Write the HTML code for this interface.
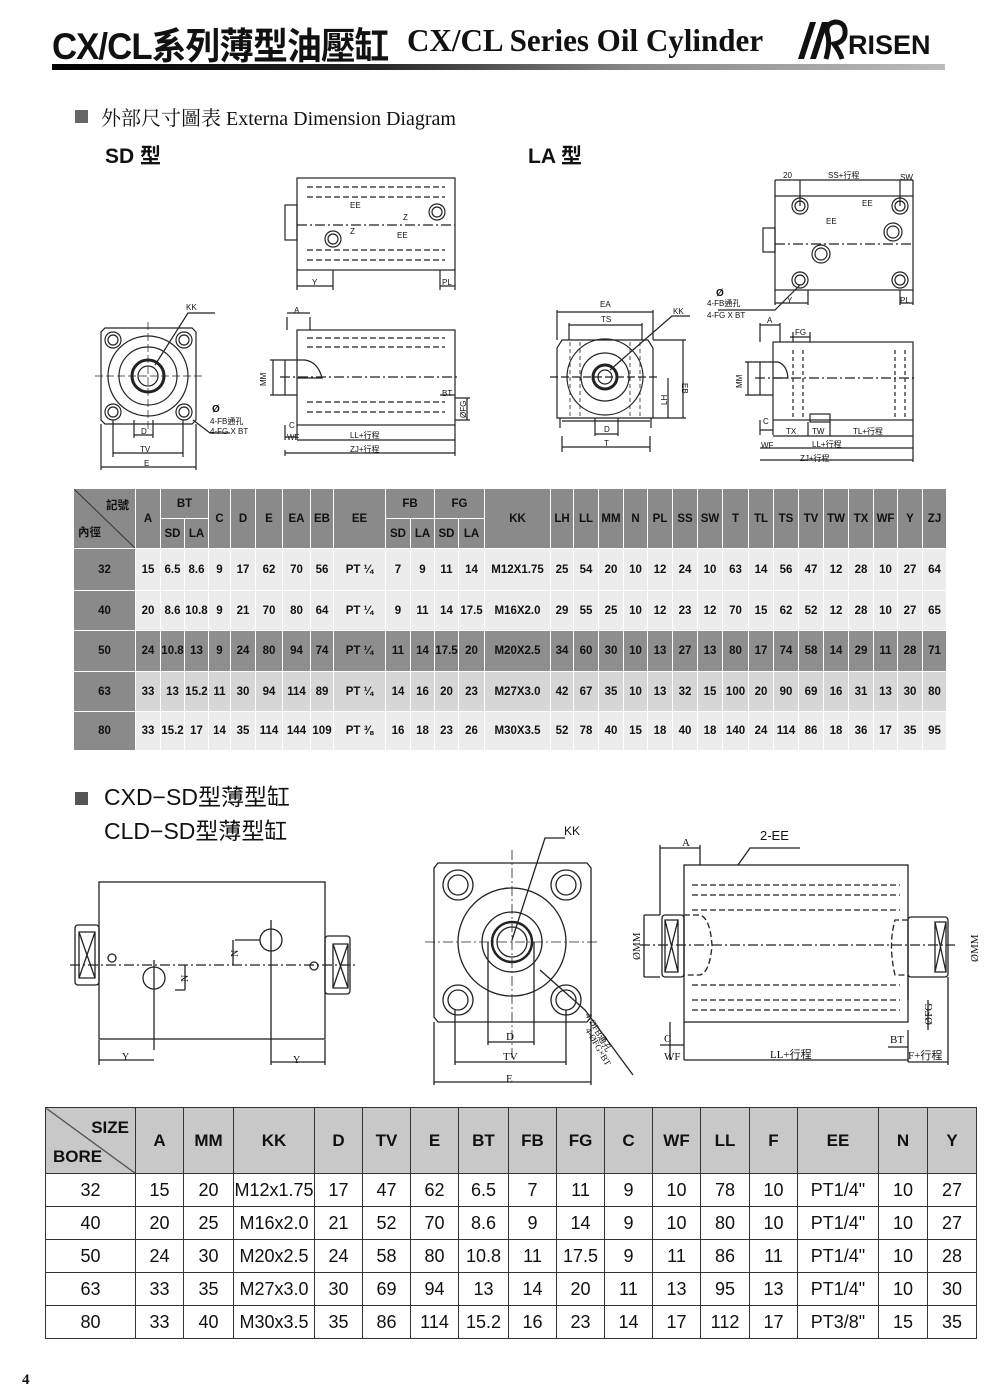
<!DOCTYPE html>
<html><head><meta charset="utf-8">
<style>
*{margin:0;padding:0;box-sizing:border-box}
body{width:1000px;height:1400px;background:#fff;position:relative;overflow:hidden;font-family:"Liberation Sans","Noto Sans CJK TC",sans-serif;color:#111}
.a{position:absolute;white-space:nowrap}
table{border-collapse:collapse;position:absolute;table-layout:fixed}
#t1{left:73px;top:488px;width:873px;font-family:"Liberation Sans Narrow","Liberation Sans","Noto Sans CJK TC",sans-serif;font-weight:bold;font-size:11.5px}
#t1 td{text-align:center;border:1px solid #fff;padding:0;overflow:hidden}
#t1 .h td{background:#8a8a8a;color:#111}
#t1 tr.l td{background:#ececec}
#t1 tr.m td{background:#d6d6d6}
#t1 tr.d td{background:#8e8e8e}
#t1 td.f{background:#8a8a8a!important}
#t2{left:45px;top:1107px;width:930px;font-size:18px}
#t2 td{border:1px solid #333;text-align:center;padding:0}
#t2 tr.hh td{background:#c8c8c8;font-weight:bold;font-size:17px;height:66px}
#t2 tr.r td{height:33px}
</style></head><body>

<div class="a" style="left:52px;top:16px;font-size:37px;font-weight:bold;letter-spacing:-1px;transform:scaleX(0.94);transform-origin:left">CX/CL系列薄型油壓缸</div>
<div class="a" style="left:407px;top:22px;font-family:'Liberation Serif',serif;font-size:32px;font-weight:bold;transform:scaleX(0.97);transform-origin:left">CX/CL Series Oil Cylinder</div>
<svg class="a" style="left:790px;top:14px" width="60" height="50"><path d="M8 45 L20 8 L26 8 L14 45Z M20 45 L32 8 L38 8 L26 45Z" fill="#111"/><path d="M36 45 Q40 30 38 22 Q34 10 45 8 Q56 8 55 20 Q54 28 44 30 Q50 38 52 45" fill="none" stroke="#111" stroke-width="5"/></svg>
<div class="a" style="left:848px;top:30px;font-size:27px;font-weight:bold">RISEN</div>
<div class="a" style="left:52px;top:64px;width:893px;height:6px;background:linear-gradient(90deg,#000 0%,#222 35%,#888 65%,#bbb 100%)"></div>

<div class="a" style="left:75px;top:110px;width:13px;height:13px;background:#666"></div>
<div class="a" style="left:101px;top:102px;font-size:20px;font-family:'Liberation Serif','Noto Serif CJK SC',serif">外部尺寸圖表 Externa Dimension Diagram</div>
<div class="a" style="left:105px;top:140px;font-size:21px;font-weight:bold">SD 型</div>
<div class="a" style="left:528px;top:140px;font-size:21px;font-weight:bold">LA 型</div>

<svg class="a" style="left:0;top:0" width="1000" height="1100" font-family="Liberation Sans, Noto Sans CJK TC, sans-serif" font-size="8" fill="none" stroke="#222" stroke-width="1.2">
<!-- SD top view -->
<rect x="297" y="178" width="158" height="92"/>
<rect x="285" y="205" width="12" height="35"/>
<path d="M307 187H445M307 197H445M307 250H445M307 260H445" stroke-dasharray="6 3"/>
<circle cx="333" cy="239" r="8"/><circle cx="333" cy="239" r="5"/>
<circle cx="437" cy="212" r="8"/><circle cx="437" cy="212" r="5"/>
<path d="M297 225H455" stroke-dasharray="10 3 2 3"/>
<path d="M297 270V290M333 270V290M297 286H333M440 270V290M455 270V290M440 286H455"/>
<g fill="#111" stroke="none"><text x="312" y="285">Y</text><text x="442" y="285">PL</text><text x="350" y="208">EE</text><text x="397" y="238">EE</text><text x="403" y="220">Z</text><text x="350" y="234">Z</text></g>
<!-- SD front -->
<path d="M105 328H192L196 332V420L192 424H105L101 420V332Z"/>
<circle cx="148" cy="376" r="40"/><circle cx="148" cy="376" r="29"/><circle cx="148" cy="376" r="16" stroke-width="3"/><circle cx="148" cy="376" r="10"/>
<circle cx="113" cy="340" r="8"/><circle cx="113" cy="340" r="5"/><circle cx="184" cy="340" r="8"/><circle cx="184" cy="340" r="5"/>
<circle cx="113" cy="412" r="8"/><circle cx="113" cy="412" r="5"/><circle cx="184" cy="412" r="8"/><circle cx="184" cy="412" r="5"/>
<path d="M95 376H202M148 322V430" stroke-dasharray="8 3" stroke-width=".7"/>
<path d="M134 420V438M153 420V438M134 435H153M113 420V457M183 420V457M113 453H183M101 424V470M196 424V470M101 467H196M155 365L188 313H215M193 420L210 433H230"/>
<g fill="#111" stroke="none"><text x="186" y="310">KK</text><text x="141" y="434">D</text><text x="140" y="452">TV</text><text x="144" y="466">E</text><text x="212" y="412" font-size="10" font-weight="bold">Ø</text><text x="210" y="424">4-FB通孔</text><text x="210" y="434">4-FG X BT</text></g>
<!-- SD side -->
<rect x="297" y="330" width="158" height="95"/>
<path d="M285 360H305Q318 362 322 378H297M285 395H297M285 360V395"/>
<path d="M307 338H445M307 347H445M307 402H445M307 412H445" stroke-dasharray="6 3"/>
<path d="M280 377H460" stroke-dasharray="10 3 2 3"/>
<path d="M287 317V330M310 317V330M287 313H310M270 360H285M270 395H285M273 360V395M285 425V440M297 425V440M285 437H297M297 440H455M285 450V456M285 453H455M455 425V456M440 395H455M455 398H470M455 420H470M467 398V420"/>
<g fill="#111" stroke="none"><text x="294" y="313">A</text><text x="266" y="386" transform="rotate(-90 266 386)">MM</text><text x="289" y="428">C</text><text x="287" y="440">WF</text><text x="350" y="438">LL+行程</text><text x="350" y="452">ZJ+行程</text><text x="442" y="396">BT</text><text x="466" y="418" transform="rotate(-90 466 418)">ØFG</text></g>
<!-- LA top -->
<rect x="775" y="196" width="138" height="94"/>
<rect x="763" y="228" width="12" height="24"/>
<circle cx="800" cy="206" r="8"/><circle cx="800" cy="206" r="5"/><circle cx="900" cy="206" r="8"/><circle cx="900" cy="206" r="5"/>
<circle cx="800" cy="280" r="8"/><circle cx="800" cy="280" r="5"/><circle cx="900" cy="280" r="8"/><circle cx="900" cy="280" r="5"/>
<circle cx="821" cy="254" r="9"/><circle cx="821" cy="254" r="6"/><circle cx="893" cy="232" r="9"/><circle cx="893" cy="232" r="6"/>
<path d="M775 244H913" stroke-dasharray="10 3 2 3"/>
<path d="M775 180V196M800 180V206M775 180H913M900 180V206M913 180V196M775 290V305M808 290V305M775 303H808M900 290V305M913 290V305M900 303H913M800 285L775 310H718"/>
<g fill="#111" stroke="none"><text x="783" y="178">20</text><text x="828" y="178">SS+行程</text><text x="900" y="180">SW</text><text x="862" y="206">EE</text><text x="826" y="224">EE</text><text x="787" y="303">Y</text><text x="900" y="303">PL</text><text x="716" y="296" font-weight="bold" font-size="10">Ø</text><text x="707" y="306">4-FB通孔</text><text x="707" y="318">4-FG X BT</text></g>
<!-- LA front -->
<path d="M562 340H648L653 348V418H557V348Z"/>
<circle cx="605" cy="377" r="38"/><circle cx="605" cy="377" r="24"/><circle cx="605" cy="377" r="12" stroke-width="3"/><circle cx="605" cy="377" r="7"/>
<path d="M570 342V418M580 342V418M630 342V418M640 342V418" stroke-dasharray="4 3" stroke-width=".8"/>
<path d="M550 377H660" stroke-dasharray="8 3"/>
<path d="M560 418V428M651 418V428M562 421H650M557 310V340M653 310V340M557 312H653M569 323V340M642 323V340M569 325H642M595 418V436M618 418V436M595 434H618M562 436V452M650 436V452M562 447H650M653 340H686M653 418H686M683 340V418M668 378V418M610 370L672 316H690"/>
<g fill="#111" stroke="none"><text x="600" y="307">EA</text><text x="601" y="322">TS</text><text x="604" y="432">D</text><text x="604" y="446">T</text><text x="673" y="314">KK</text><text x="682" y="383" transform="rotate(90 682 383)">EB</text><text x="667" y="405" transform="rotate(-90 667 405)">LH</text></g>
<!-- LA side -->
<rect x="773" y="342" width="140" height="78"/>
<path d="M760 362H778Q787 365 788 378H773M760 395H773M760 362V395"/>
<path d="M793 350V420M803 350V420M895 350V420M905 350V420" stroke-dasharray="4 3"/>
<rect x="810" y="414" width="20" height="8"/>
<path d="M755 378H915" stroke-dasharray="10 3 2 3"/>
<path d="M760 323V342M780 323V342M760 325H780M790 337H810M793 332V342M810 332V342M745 362H760M745 395H760M748 362V395M760 420V435M773 420V435M760 430H773M773 436H913M760 448H913M760 460H913M913 420V462M808 436V422M830 436V422"/>
<g fill="#111" stroke="none"><text x="767" y="323">A</text><text x="795" y="335">FG</text><text x="742" y="388" transform="rotate(-90 742 388)">MM</text><text x="763" y="424">C</text><text x="786" y="434">TX</text><text x="812" y="434">TW</text><text x="853" y="434">TL+行程</text><text x="761" y="448">WF</text><text x="812" y="447">LL+行程</text><text x="800" y="461">ZJ+行程</text></g>

<!-- Bottom left -->
<g stroke-width="1.3">
<rect x="99" y="882" width="226" height="157"/>
<rect x="75" y="925" width="24" height="60" rx="3"/><path d="M79 932H95V978H79ZM79 932L95 978M95 932L79 978"/>
<rect x="325" y="936" width="25" height="58" rx="3"/><path d="M333 944H348V988H333ZM333 944L348 988M348 944L333 988"/>
<circle cx="271" cy="940" r="11"/><circle cx="154" cy="978" r="11"/>
<circle cx="112" cy="958" r="4"/><circle cx="314" cy="966" r="4"/>
<path d="M70 965H355" stroke-dasharray="10 3 2 3"/>
<path d="M271 920V1050M154 960V1050M99 1040V1065M99 1060H154M271 1050V1065M271 1062H325M325 1040V1065M235 940H260M233 965V940M185 965V990M185 990H175"/>
<g fill="#111" stroke="none" font-family="Liberation Serif,serif" font-size="10"><text x="122" y="1060">Y</text><text x="293" y="1063">Y</text><text x="238" y="957" transform="rotate(-90 238 957)">N</text><text x="188" y="982" transform="rotate(-90 188 982)">N</text></g>
<!-- Bottom middle -->
<path d="M438 863H587L591 868V1017L587 1022H438L434 1017V868Z"/>
<circle cx="512" cy="942" r="54"/><circle cx="512" cy="942" r="30"/><circle cx="512" cy="942" r="20" stroke-width="2.5"/><circle cx="512" cy="942" r="15"/>
<circle cx="458" cy="885" r="15"/><circle cx="458" cy="885" r="10"/><circle cx="566" cy="885" r="15"/><circle cx="566" cy="885" r="10"/>
<circle cx="458" cy="1000" r="15"/><circle cx="458" cy="1000" r="10"/><circle cx="566" cy="1000" r="15"/><circle cx="566" cy="1000" r="10"/>
<path d="M425 942H600M512 850V1060" stroke-dasharray="10 3 2 3" stroke-width=".8"/>
<path d="M488 942V1045M534 942V1045M488 1042H534M455 1010V1065M566 1010V1065M455 1062H566M434 1022V1085M591 1022V1085M434 1082H591M512 940L545 838H565M540 970L585 1010L633 1075"/>
<g fill="#111" stroke="none" font-family="Liberation Serif,serif" font-size="11"><text x="506" y="1040">D</text><text x="503" y="1060">TV</text><text x="506" y="1082">E</text><text x="564" y="835" font-family="Liberation Sans,sans-serif" font-size="12" font-weight="normal">KK</text><text x="585" y="1015" font-size="9" transform="rotate(60 585 1015)">4-ØFB通孔</text><text x="585" y="1030" font-size="9" transform="rotate(60 585 1030)">4-ØFG×BT</text></g>
<!-- Bottom right -->
<rect x="684" y="865" width="224" height="157"/>
<rect x="662" y="915" width="22" height="62" rx="3"/><path d="M665 920H678V972H665ZM665 920L678 972M678 920L665 972"/>
<rect x="908" y="917" width="40" height="60" rx="3"/><path d="M935 922H946V972H935ZM935 922L946 972M946 922L935 972"/>
<path d="M692 885H900M692 895H900M692 910H900M692 985H900M692 1000H900M692 1010H900M684 915H700Q710 918 712 945Q710 972 700 975H684M908 920H895Q888 945 895 975H908" stroke-dasharray="6 3"/>
<path d="M640 945H955" stroke-dasharray="10 3 2 3"/>
<path d="M660 845V915M700 845V865M660 848H700M738 865L750 848H800M644 915V977M644 915H660M644 977H660M908 975V1000M928 1000V1030M670 1022V1060M684 1022V1060M660 1045H684M684 1060H908M908 1030V1062M888 1047H908M908 1062H948M948 977V1065"/>
<g fill="#111" stroke="none" font-family="Liberation Serif,serif" font-size="11"><text x="682" y="846">A</text><text x="760" y="840" font-family="Liberation Sans,sans-serif" font-size="13">2-EE</text><text x="640" y="960" transform="rotate(-90 640 960)">ØMM</text><text x="978" y="962" transform="rotate(-90 978 962)">ØMM</text><text x="664" y="1042">C</text><text x="664" y="1060">WF</text><text x="770" y="1058">LL+行程</text><text x="890" y="1043">BT</text><text x="908" y="1059">F+行程</text><text x="932" y="1025" transform="rotate(-90 932 1025)">ØFG</text></g>
</g>
</svg>

<div class="a" style="left:75px;top:792px;width:13px;height:13px;background:#555"></div>
<div class="a" style="left:104px;top:778px;font-size:23px">CXD−SD型薄型缸</div>
<div class="a" style="left:104px;top:812px;font-size:23px">CLD−SD型薄型缸</div>

<table id="t1">
<colgroup><col style="width:62px"><col style="width:25px"><col style="width:24px"><col style="width:24px"><col style="width:22px"><col style="width:25px"><col style="width:27px"><col style="width:28px"><col style="width:23px"><col style="width:52px"><col style="width:25px"><col style="width:24px"><col style="width:24px"><col style="width:26px"><col style="width:66px"><col style="width:23px"><col style="width:25px"><col style="width:25px"><col style="width:24px"><col style="width:25px"><col style="width:25px"><col style="width:25px"><col style="width:26px"><col style="width:25px"><col style="width:25px"><col style="width:25px"><col style="width:25px"><col style="width:25px"><col style="width:24px"><col style="width:25px"><col style="width:24px"></colgroup>
<tr class="h" style="height:30px"><td class="f" rowspan="2" style="position:relative;background:linear-gradient(to top right,#8a8a8a 49%,#222 50%,#8a8a8a 51%) !important"><span style="position:absolute;right:6px;top:8px">記號</span><span style="position:absolute;left:4px;bottom:8px">內徑</span></td><td rowspan="2">A</td><td colspan="2">BT</td><td rowspan="2">C</td><td rowspan="2">D</td><td rowspan="2">E</td><td rowspan="2">EA</td><td rowspan="2">EB</td><td rowspan="2">EE</td><td colspan="2">FB</td><td colspan="2">FG</td><td rowspan="2">KK</td><td rowspan="2">LH</td><td rowspan="2">LL</td><td rowspan="2">MM</td><td rowspan="2">N</td><td rowspan="2">PL</td><td rowspan="2">SS</td><td rowspan="2">SW</td><td rowspan="2">T</td><td rowspan="2">TL</td><td rowspan="2">TS</td><td rowspan="2">TV</td><td rowspan="2">TW</td><td rowspan="2">TX</td><td rowspan="2">WF</td><td rowspan="2">Y</td><td rowspan="2">ZJ</td></tr>
<tr class="h" style="height:30px"><td>SD</td><td>LA</td><td>SD</td><td>LA</td><td>SD</td><td>LA</td></tr>
<tr class="l" style="height:42px"><td class="f">32</td><td>15</td><td>6.5</td><td>8.6</td><td>9</td><td>17</td><td>62</td><td>70</td><td>56</td><td>PT ¼</td><td>7</td><td>9</td><td>11</td><td>14</td><td>M12X1.75</td><td>25</td><td>54</td><td>20</td><td>10</td><td>12</td><td>24</td><td>10</td><td>63</td><td>14</td><td>56</td><td>47</td><td>12</td><td>28</td><td>10</td><td>27</td><td>64</td></tr>
<tr class="l" style="height:40px"><td class="f">40</td><td>20</td><td>8.6</td><td>10.8</td><td>9</td><td>21</td><td>70</td><td>80</td><td>64</td><td>PT ¼</td><td>9</td><td>11</td><td>14</td><td>17.5</td><td>M16X2.0</td><td>29</td><td>55</td><td>25</td><td>10</td><td>12</td><td>23</td><td>12</td><td>70</td><td>15</td><td>62</td><td>52</td><td>12</td><td>28</td><td>10</td><td>27</td><td>65</td></tr>
<tr class="d" style="height:41px"><td class="f">50</td><td>24</td><td>10.8</td><td>13</td><td>9</td><td>24</td><td>80</td><td>94</td><td>74</td><td>PT ¼</td><td>11</td><td>14</td><td>17.5</td><td>20</td><td>M20X2.5</td><td>34</td><td>60</td><td>30</td><td>10</td><td>13</td><td>27</td><td>13</td><td>80</td><td>17</td><td>74</td><td>58</td><td>14</td><td>29</td><td>11</td><td>28</td><td>71</td></tr>
<tr class="m" style="height:40px"><td class="f">63</td><td>33</td><td>13</td><td>15.2</td><td>11</td><td>30</td><td>94</td><td>114</td><td>89</td><td>PT ¼</td><td>14</td><td>16</td><td>20</td><td>23</td><td>M27X3.0</td><td>42</td><td>67</td><td>35</td><td>10</td><td>13</td><td>32</td><td>15</td><td>100</td><td>20</td><td>90</td><td>69</td><td>16</td><td>31</td><td>13</td><td>30</td><td>80</td></tr>
<tr class="l" style="height:39px"><td class="f">80</td><td>33</td><td>15.2</td><td>17</td><td>14</td><td>35</td><td>114</td><td>144</td><td>109</td><td>PT ⅜</td><td>16</td><td>18</td><td>23</td><td>26</td><td>M30X3.5</td><td>52</td><td>78</td><td>40</td><td>15</td><td>18</td><td>40</td><td>18</td><td>140</td><td>24</td><td>114</td><td>86</td><td>18</td><td>36</td><td>17</td><td>35</td><td>95</td></tr>
</table>

<table id="t2">
<colgroup><col style="width:90px"><col style="width:48px"><col style="width:50px"><col style="width:81px"><col style="width:48px"><col style="width:48px"><col style="width:48px"><col style="width:50px"><col style="width:48px"><col style="width:48px"><col style="width:48px"><col style="width:48px"><col style="width:49px"><col style="width:48px"><col style="width:81px"><col style="width:49px"><col style="width:49px"></colgroup>
<tr class="hh"><td style="position:relative;background:linear-gradient(to top right,#c8c8c8 49%,#333 50%,#c8c8c8 51%)"><span style="position:absolute;right:6px;top:10px">SIZE</span><span style="position:absolute;left:7px;bottom:6px">BORE</span></td><td>A</td><td>MM</td><td>KK</td><td>D</td><td>TV</td><td>E</td><td>BT</td><td>FB</td><td>FG</td><td>C</td><td>WF</td><td>LL</td><td>F</td><td>EE</td><td>N</td><td>Y</td></tr>
<tr class="r"><td>32</td><td>15</td><td>20</td><td>M12x1.75</td><td>17</td><td>47</td><td>62</td><td>6.5</td><td>7</td><td>11</td><td>9</td><td>10</td><td>78</td><td>10</td><td>PT1/4"</td><td>10</td><td>27</td></tr>
<tr class="r"><td>40</td><td>20</td><td>25</td><td>M16x2.0</td><td>21</td><td>52</td><td>70</td><td>8.6</td><td>9</td><td>14</td><td>9</td><td>10</td><td>80</td><td>10</td><td>PT1/4"</td><td>10</td><td>27</td></tr>
<tr class="r"><td>50</td><td>24</td><td>30</td><td>M20x2.5</td><td>24</td><td>58</td><td>80</td><td>10.8</td><td>11</td><td>17.5</td><td>9</td><td>11</td><td>86</td><td>11</td><td>PT1/4"</td><td>10</td><td>28</td></tr>
<tr class="r"><td>63</td><td>33</td><td>35</td><td>M27x3.0</td><td>30</td><td>69</td><td>94</td><td>13</td><td>14</td><td>20</td><td>11</td><td>13</td><td>95</td><td>13</td><td>PT1/4"</td><td>10</td><td>30</td></tr>
<tr class="r"><td>80</td><td>33</td><td>40</td><td>M30x3.5</td><td>35</td><td>86</td><td>114</td><td>15.2</td><td>16</td><td>23</td><td>14</td><td>17</td><td>112</td><td>17</td><td>PT3/8"</td><td>15</td><td>35</td></tr>
</table>

<div class="a" style="left:22px;top:1372px;font-size:15px;font-family:'Liberation Serif',serif;font-weight:bold">4</div>
</body></html>
